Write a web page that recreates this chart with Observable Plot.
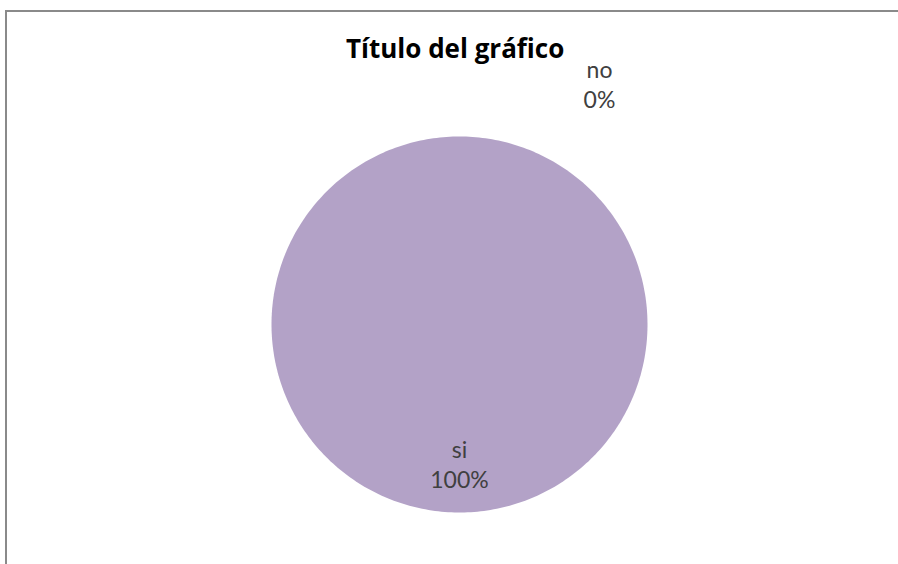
<!DOCTYPE html>
<html>
<head>
<meta charset="utf-8">
<script src="https://cdn.jsdelivr.net/npm/d3@7"></script>
<script src="https://cdn.jsdelivr.net/npm/@observablehq/plot@0.6"></script>
<style>
  html, body { margin: 0; padding: 0; background: #fff; }
  #wrap { position: relative; width: 898px; height: 564px; overflow: hidden; }
  #frame { position: absolute; left: 5px; top: 10px; right: -10px; bottom: -10px;
           border: 2px solid #8a8a8a; box-sizing: border-box; }
  #title { position: absolute; left: 346px; top: 30px; white-space: nowrap;
           font-family: "Open Sans", Lato, sans-serif; font-weight: bold; font-size: 26px; color: #000; }
  #chart { position: absolute; left: 0; top: 0; }
</style>
</head>
<body>
<div id="wrap">
  <div id="frame"></div>
  <div id="chart"></div>
  <div id="title">Título del gráfico</div>
</div>
<script>
const categories = ["si", "no"];
const values = [100, 0];
const colors = ["#b3a2c7", "#4f81bd"];

const data = categories.map((c, i) => ({name: c, value: values[i]}));
const total = d3.sum(values);
const arcs = d3.pie().sort(null).value(d => d.value)(data);

// polygon points along each slice (angle 0 at top, clockwise)
const pts = [];
for (const a of arcs) {
  if (a.endAngle - a.startAngle <= 0) continue;
  const n = Math.max(2, Math.ceil((a.endAngle - a.startAngle) / (Math.PI / 180)));
  const full = a.endAngle - a.startAngle >= 2 * Math.PI - 1e-9;
  if (!full) pts.push({name: a.data.name, x: 0, y: 0});
  for (let k = 0; k <= n; k++) {
    const t = a.startAngle + (a.endAngle - a.startAngle) * k / n;
    pts.push({name: a.data.name, x: Math.sin(t), y: Math.cos(t)});
  }
}

const labels = arcs.map(a => {
  const mid = (a.startAngle + a.endAngle) / 2;
  const empty = a.value === 0;
  const r = empty ? 1.05 : 0.77;
  return {
    name: a.data.name,
    text: `${a.data.name}\n${Math.round(a.value / total * 100)}%`,
    x: Math.sin(mid) * r,
    y: Math.cos(mid) * r,
    empty
  };
});

const chart = Plot.plot({
  width: 898,
  height: 564,
  marginLeft: 271,
  marginRight: 251,
  marginTop: 136,
  marginBottom: 52,
  x: {domain: [-1, 1], axis: null},
  y: {domain: [-1, 1], axis: null},
  color: {domain: categories, range: colors},
  style: {background: "transparent", fontFamily: "Lato, 'Open Sans', sans-serif"},
  marks: [
    Plot.line(pts, {x: "x", y: "y", z: "name", fill: "name", stroke: null, curve: "linear"}),
    Plot.text(labels.filter(d => !d.empty), {
      x: "x", y: "y", text: "text", fontSize: 23, fill: "#404040", lineHeight: 1.32, dy: -6
    }),
    Plot.text(labels.filter(d => d.empty), {
      x: "x", y: "y", text: "text", fontSize: 23, fill: "#404040", lineHeight: 1.32,
      dx: 140, dy: -44, clip: false
    })
  ]
});
document.getElementById("chart").appendChild(chart);
</script>
</body>
</html>
